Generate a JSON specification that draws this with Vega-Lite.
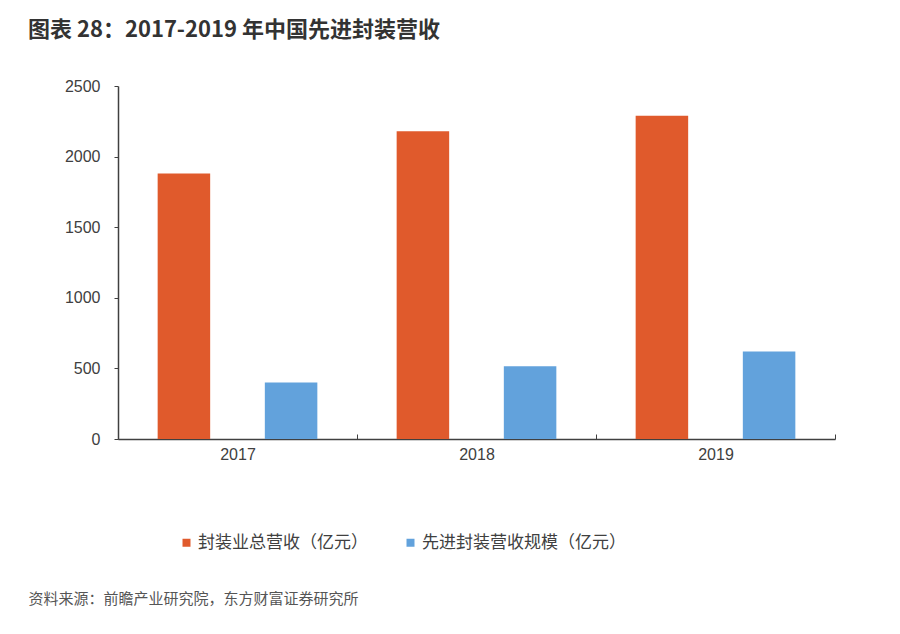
{
  "$schema": "https://vega.github.io/schema/vega-lite/v6.json",
  "autosize": "none",
  "width": 717,
  "height": 353,
  "padding": {"left": 118, "top": 86, "right": 65, "bottom": 195},
  "background": "#ffffff",
  "title": {
    "text": "图表 28：2017-2019 年中国先进封装营收",
    "anchor": "start",
    "frame": "group",
    "dx": -90,
    "offset": 36,
    "font": "Noto Sans CJK SC",
    "fontSize": 22,
    "fontWeight": "bold",
    "color": "#333333"
  },
  "data": {
    "values": [
      {"year": "2017", "series": "封装业总营收（亿元）", "value": 1880},
      {"year": "2017", "series": "先进封装营收规模（亿元）", "value": 400},
      {"year": "2018", "series": "封装业总营收（亿元）", "value": 2180},
      {"year": "2018", "series": "先进封装营收规模（亿元）", "value": 515},
      {"year": "2019", "series": "封装业总营收（亿元）", "value": 2290},
      {"year": "2019", "series": "先进封装营收规模（亿元）", "value": 620}
    ]
  },
  "mark": {"type": "bar"},
  "encoding": {
    "x": {
      "field": "year",
      "type": "nominal",
      "scale": {"paddingInner": 0, "paddingOuter": 0},
      "axis": {
        "title": "资料来源：前瞻产业研究院，东方财富证券研究所",
        "titleFont": "Noto Sans CJK SC",
        "titleFontSize": 15,
        "titleFontWeight": "normal",
        "titleColor": "#555555",
        "titleAnchor": "start",
        "titleAlign": "left",
        "titleBaseline": "middle",
        "titleX": -90,
        "titleY": 159,
        "labelAngle": 0,
        "labelFont": "Liberation Sans",
        "labelFontSize": 16,
        "labelColor": "#404040",
        "labelPadding": 12,
        "tickBand": "extent",
        "tickSize": -5,
        "tickColor": "#404040",
        "domainColor": "#404040",
        "domainWidth": 1.5
      }
    },
    "xOffset": {
      "field": "series",
      "type": "nominal",
      "sort": ["封装业总营收（亿元）", "先进封装营收规模（亿元）"],
      "scale": {"paddingInner": 0.51, "paddingOuter": 0.37}
    },
    "y": {
      "field": "value",
      "type": "quantitative",
      "scale": {"domain": [0, 2500]},
      "axis": {
        "title": null,
        "values": [0, 500, 1000, 1500, 2000, 2500],
        "format": "d",
        "grid": false,
        "labelFont": "Liberation Sans",
        "labelFontSize": 16,
        "labelColor": "#404040",
        "labelPadding": 14,
        "tickSize": 4,
        "tickColor": "#404040",
        "domainColor": "#404040",
        "domainWidth": 1.5
      }
    },
    "color": {
      "field": "series",
      "type": "nominal",
      "sort": ["封装业总营收（亿元）", "先进封装营收规模（亿元）"],
      "scale": {
        "domain": ["封装业总营收（亿元）", "先进封装营收规模（亿元）"],
        "range": ["#E05A2C", "#62A2DC"]
      },
      "legend": {
        "title": null,
        "orient": "none",
        "direction": "horizontal",
        "legendX": 60,
        "legendY": 448,
        "symbolType": "square",
        "symbolSize": 64,
        "symbolStrokeWidth": 0,
        "labelFont": "Noto Sans CJK SC",
        "labelFontSize": 17,
        "labelColor": "#404040",
        "labelOffset": 3,
        "labelLimit": 400,
        "columnPadding": 34
      }
    }
  },
  "config": {
    "view": {"stroke": null}
  }
}
